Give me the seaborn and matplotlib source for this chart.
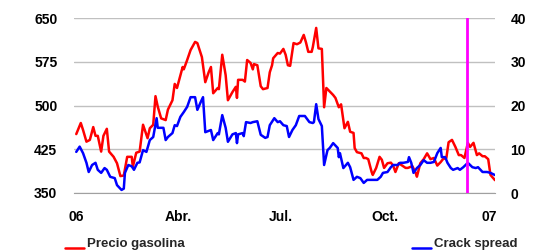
import matplotlib
matplotlib.use('Agg')
import matplotlib.pyplot as plt
from matplotlib.lines import Line2D
import pandas as pd
import seaborn as sns

START = pd.Timestamp('2006-01-01')

# precio gasolina (eje izquierdo), dias desde 1-ene-2006
gas_days = [0, 4, 6, 9, 12, 15, 17, 19, 22, 24, 27, 29, 33, 36, 39, 42, 45, 49, 50, 53,
            56, 59, 63, 65, 68, 70, 72, 75, 79, 81, 85, 87, 89, 94, 95, 98, 101, 105, 107, 109,
            111, 114, 117, 119, 121, 125, 126, 129, 132, 134, 138, 141, 142, 143, 147, 149, 151, 154, 156, 157,
            160, 163, 165, 169, 171, 173, 174, 178, 180, 183, 185, 187, 189, 192, 195, 198, 201, 203, 205, 208,
            209, 212, 214, 217, 219, 221, 224, 227, 229, 232, 234, 237, 240, 242, 245, 246, 248, 252, 254, 256,
            258, 261, 262, 265, 268, 270, 272, 275, 278, 280, 282, 285, 288, 291, 293, 297, 300, 301, 304, 307,
            310, 313, 316, 319, 322, 324, 327, 329, 332, 335, 338, 340, 343, 346, 348, 351, 354, 356, 359, 361,
            364, 366, 370]
gas_price = [451, 470, 458, 438, 441, 463, 448, 448, 421, 448, 460, 421, 412, 401, 379, 380, 412, 412, 395, 419,
             421, 467, 444, 461, 467, 516, 498, 478, 475, 493, 509, 537, 530, 566, 562, 578, 595, 609, 607, 595,
             583, 540, 557, 566, 521, 530, 528, 587, 552, 509, 523, 532, 513, 544, 544, 541, 578, 573, 562, 571,
             569, 533, 528, 530, 557, 569, 581, 590, 589, 597, 587, 569, 568, 607, 605, 608, 621, 608, 592, 592,
             600, 633, 598, 597, 497, 530, 524, 518, 513, 497, 502, 461, 472, 455, 453, 427, 420, 418, 410, 410,
             408, 386, 381, 393, 412, 407, 393, 401, 402, 397, 386, 401, 397, 393, 393, 396, 384, 378, 401, 408,
             418, 408, 410, 397, 403, 408, 410, 437, 441, 429, 415, 415, 410, 436, 429, 436, 415, 418, 413, 413,
             408, 381, 372]

# crack spread (eje derecho)
crack_days = [0, 3, 6, 9, 11, 14, 17, 19, 22, 25, 27, 30, 34, 36, 40, 42, 43, 46, 49, 51,
              54, 56, 59, 62, 65, 68, 71, 72, 77, 79, 81, 85, 87, 89, 92, 95, 98, 101, 105, 107,
              110, 112, 114, 117, 119, 121, 125, 126, 129, 132, 134, 138, 141, 142, 143, 147, 148, 150, 154, 156,
              160, 163, 167, 169, 171, 175, 178, 180, 183, 186, 188, 191, 194, 197, 202, 206, 209, 210, 212, 214,
              217, 219, 222, 224, 227, 231, 232, 233, 236, 240, 242, 245, 248, 251, 254, 257, 262, 266, 269, 271,
              275, 278, 280, 284, 286, 289, 293, 294, 296, 298, 301, 304, 307, 310, 313, 316, 319, 322, 323, 326,
              328, 331, 333, 337, 339, 342, 346, 350, 353, 355, 359, 363, 366, 370]
crack_spread = [9.4, 10.6, 9.1, 6.9, 4.8, 6.4, 6.9, 5.3, 4.6, 5.7, 5.3, 3.7, 3.4, 1.8, 0.7, 1.0, 4.6, 6.4, 6.1, 5.3,
                6.9, 7.0, 9.8, 9.4, 12.1, 12.8, 17.1, 14.9, 14.9, 12.1, 12.8, 13.7, 15.5, 15.3, 17.4, 18.5, 19.7, 21.9, 21.9, 19.0,
                20.8, 21.9, 13.9, 14.2, 14.4, 12.1, 13.7, 13.4, 17.8, 14.9, 11.7, 13.4, 13.7, 11.4, 13.4, 13.7, 13.0, 16.2, 16.0, 16.2,
                16.4, 13.3, 12.6, 12.8, 15.5, 17.1, 16.2, 16.4, 15.5, 15.3, 12.8, 14.4, 15.5, 17.6, 17.6, 16.2, 16.0, 16.2, 20.3, 16.9,
                15.3, 6.4, 9.8, 10.3, 11.4, 10.3, 8.2, 9.1, 5.7, 6.9, 5.9, 3.0, 3.7, 3.4, 2.3, 3.0, 3.0, 3.0, 3.7, 4.6,
                4.8, 5.9, 6.4, 6.4, 6.9, 6.9, 7.1, 8.2, 6.9, 4.6, 5.7, 6.4, 7.5, 6.9, 6.9, 7.1, 9.1, 10.3, 8.2, 8.2,
                6.9, 5.7, 5.3, 5.7, 5.3, 5.9, 6.9, 5.9, 5.7, 5.9, 4.8, 4.8, 4.6, 4.1]

marker_day = 345
xtick_dates = ['2006-01-01', '2006-04-01', '2006-07-01', '2006-10-01', '2007-01-01']
xtick_labels = ['06', 'Abr.', 'Jul.', 'Oct.', '07']
left_ticks = [350, 425, 500, 575, 650]
right_ticks = [0, 10, 20, 30, 40]

gas = pd.DataFrame({'fecha': START + pd.to_timedelta(gas_days, unit='D'), 'precio': gas_price})
crack = pd.DataFrame({'fecha': START + pd.to_timedelta(crack_days, unit='D'), 'spread': crack_spread})

sns.set_style('white')
plt.rcParams['font.family'] = ['Liberation Sans', 'DejaVu Sans']
plt.rcParams['font.weight'] = 'bold'
FS = 9.5
TICK_FS = 10

fig = plt.figure(figsize=(5.4, 2.52), dpi=100)
ax = fig.add_axes([74 / 540, 1 - 193 / 252, 421 / 540, 175 / 252])

sns.lineplot(data=gas, x='fecha', y='precio', color='#ff0000', lw=1.8, ax=ax)
ax2 = ax.twinx()
sns.lineplot(data=crack, x='fecha', y='spread', color='#0000ff', lw=1.8, ax=ax2)
ax2.axvline(START + pd.Timedelta(days=marker_day), color='#ff00ff', lw=2)

ax.set_xlim(START - pd.Timedelta(days=2), START + pd.Timedelta(days=370))
ax.set_ylim(350, 650)
ax2.set_ylim(0, 40)
ax.set_yticks(left_ticks)
ax2.set_yticks(right_ticks)
ax.set_xticks(pd.to_datetime(xtick_dates))
ax.set_xticklabels(xtick_labels)

ax.yaxis.grid(True, color='#c0c0c0', lw=1)
ax.set_axisbelow(True)
for a in (ax, ax2):
    a.set_xlabel('')
    a.set_ylabel('')
    for s in ('top', 'left', 'right'):
        a.spines[s].set_visible(False)
ax2.spines['bottom'].set_visible(False)
ax.spines['bottom'].set_color('#a0a0a0')

ax.tick_params(axis='y', length=0, pad=12, labelsize=TICK_FS, labelcolor='black')
ax2.tick_params(axis='y', length=0, pad=11, labelsize=TICK_FS, labelcolor='black')
ax.tick_params(axis='x', length=4, color='#a0a0a0', pad=8, labelsize=TICK_FS, labelcolor='black')
for lab in ax.get_xticklabels() + ax.get_yticklabels() + ax2.get_yticklabels():
    lab.set_fontweight('bold')

# leyenda inferior
fig.add_artist(Line2D([65 / 540, 84 / 540], [1 - 248 / 252] * 2, color='#ff0000', lw=1.8))
fig.text(87 / 540, 1 - 244 / 252, 'Precio gasolina', va='center', ha='left', fontsize=FS, fontweight='bold')
fig.add_artist(Line2D([412 / 540, 431 / 540], [1 - 248 / 252] * 2, color='#0000ff', lw=1.8))
fig.text(434 / 540, 1 - 244 / 252, 'Crack spread', va='center', ha='left', fontsize=FS, fontweight='bold')

fig.savefig('out.png', dpi=100)
